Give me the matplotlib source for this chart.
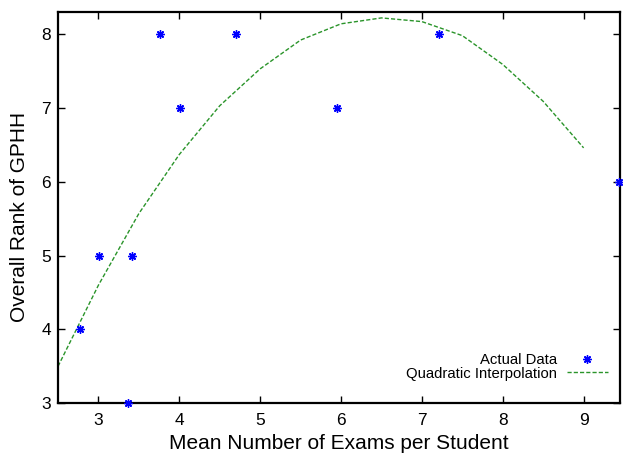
import matplotlib
matplotlib.use("Agg")
import matplotlib.pyplot as plt

# Data
data_x = [2.77, 3.01, 3.36, 3.42, 3.765, 4.01, 4.70, 5.95, 7.21, 9.44]
data_y = [4, 5, 3, 5, 8, 7, 8, 7, 8, 6]
fit_x = [2.5, 3.0, 3.5, 4.0, 4.5, 5.0, 5.5, 6.0, 6.5, 7.0, 7.5, 8.0, 8.5, 9.0]
fit_y = [3.5, 4.6, 5.57, 6.37, 7.03, 7.53, 7.92, 8.14, 8.22, 8.17, 7.98, 7.59, 7.09, 6.46]
x_ticks = [3, 4, 5, 6, 7, 8, 9]
y_ticks = [3, 4, 5, 6, 7, 8]

plt.rcParams['font.family'] = ['Liberation Sans', 'DejaVu Sans']

fig = plt.figure(figsize=(6.23, 4.57), dpi=100)
ax = fig.add_axes([58/623, (457-403.3)/457, (620-58)/623, (403.3-12)/457])

ax.plot(data_x, data_y, linestyle='none', marker=(8, 2, 0), markersize=6,
        color='#0000ff', markeredgewidth=1.0, label='Actual Data', clip_on=False, zorder=3)
ax.plot(fit_x, fit_y, linestyle=(0, (3, 1.5)), color='#2a942a', linewidth=1.0,
        label='Quadratic Interpolation')

ax.set_xlim(2.5, 9.45)
ax.set_ylim(3, 8.3)
ax.set_xticks(x_ticks)
ax.set_yticks(y_ticks)
ax.tick_params(direction='in', length=5, width=1, top=True, right=True,
               labelsize=12.5)
ax.tick_params(axis='x', pad=7)
ax.tick_params(axis='y', pad=5)
for s in ax.spines.values():
    s.set_linewidth(1.6)

ax.set_xlabel('Mean Number of Exams per Student', fontsize=15, labelpad=4)
ax.set_ylabel('Overall Rank of GPHH', fontsize=15)
ax.yaxis.set_label_coords(-0.051, 0.477)

leg = ax.legend(loc='lower right', bbox_to_anchor=(0.979, 0.058),
                markerfirst=False, frameon=False, fontsize=10.7,
                handlelength=2.8, handletextpad=0.67, labelspacing=-0.05,
                borderaxespad=0, borderpad=0, numpoints=1)

fig.savefig('out.png', dpi=100)
